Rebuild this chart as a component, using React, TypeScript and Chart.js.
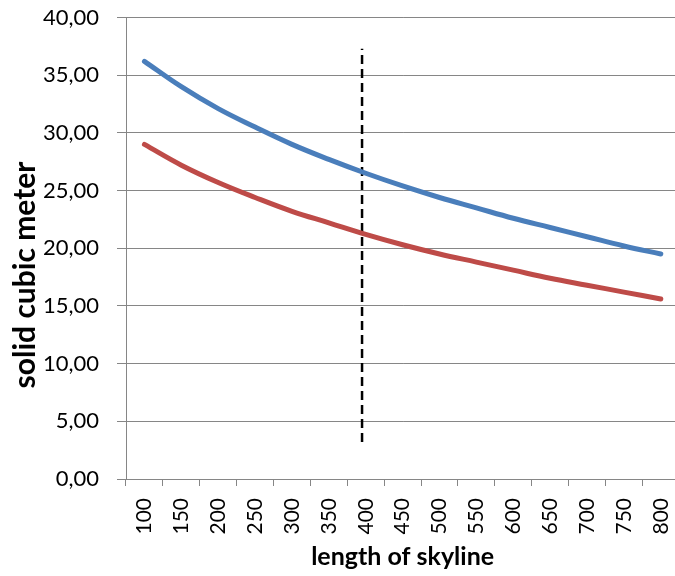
import React, { useEffect, useRef } from "react";
import { Chart, registerables } from "chart.js";

Chart.register(...registerables);

const categories = ["100", "150", "200", "250", "300", "350", "400", "450", "500", "550", "600", "650", "700", "750", "800"];
const blueSeries = [36.2, 34.0, 32.1, 30.5, 29.0, 27.7, 26.5, 25.4, 24.4, 23.5, 22.6, 21.8, 21.0, 20.2, 19.5];
const redSeries = [29.0, 27.2, 25.7, 24.4, 23.2, 22.2, 21.2, 20.3, 19.5, 18.8, 18.1, 17.4, 16.8, 16.2, 15.6];
const markerLength = [395, 395];
const markerValues = [3.2, 37.3];
const yMin = 0;
const yMax = 40;
const yStep = 5;
const xRangeMin = 75;
const xRangeMax = 825;
const yTitle = "solid cubic meter";
const xTitle = "length of skyline";

const GRID = "#868686";
const FONT = "Lato, 'Open Sans', sans-serif";

const yTitlePlugin = {
  id: "yTitlePlugin",
  afterDraw(chart: any) {
    const { ctx, chartArea } = chart;
    ctx.save();
    ctx.font = `bold 30px ${FONT}`;
    ctx.fillStyle = "#000";
    ctx.textAlign = "center";
    ctx.textBaseline = "middle";
    const cy = chartArea.top + (chartArea.bottom - chartArea.top) * 0.558;
    ctx.translate(25, cy);
    ctx.rotate(-Math.PI / 2);
    ctx.fillText(yTitle, 0, 0);
    ctx.restore();
  },
};

export default function App() {
  const ref = useRef<HTMLCanvasElement | null>(null);

  useEffect(() => {
    if (!ref.current) return;
    const chart = new Chart(ref.current, {
      type: "line",
      data: {
        labels: categories,
        datasets: [
          {
            data: blueSeries,
            borderColor: "#4A7EBB",
            borderWidth: 5,
            pointRadius: 0,
            tension: 0.4,
            borderCapStyle: "round",
            fill: false,
          },
          {
            data: redSeries,
            borderColor: "#BE4B48",
            borderWidth: 5,
            pointRadius: 0,
            tension: 0.4,
            borderCapStyle: "round",
            fill: false,
          },
          {
            data: markerLength.map((x, i) => ({ x, y: markerValues[i] })),
            xAxisID: "x2",
            borderColor: "#000000",
            borderWidth: 2.5,
            borderDash: [9, 5],
            pointRadius: 0,
            fill: false,
          },
        ],
      },
      options: {
        animation: false,
        responsive: false,
        maintainAspectRatio: false,
        layout: { padding: { top: 0, right: 0, bottom: 0, left: 0 } },
        plugins: { legend: { display: false }, tooltip: { enabled: false } },
        scales: {
          x: {
            type: "category",
            offset: true,
            afterFit: (s: any) => {
              s.height = 97;
            },
            grid: {
              display: true,
              offset: true,
              drawOnChartArea: false,
              drawTicks: true,
              tickLength: 7,
              color: GRID,
              lineWidth: 1,
            },
            border: { display: true, color: GRID, width: 1 },
            ticks: {
              minRotation: 90,
              maxRotation: 90,
              autoSkip: false,
              padding: 12,
              color: "#000",
              font: { family: FONT, size: 21 },
            },
            title: {
              display: true,
              text: xTitle,
              color: "#000",
              font: { family: FONT, size: 25, weight: "bold" },
              padding: { top: 0, bottom: 4 },
            },
          },
          x2: {
            type: "linear",
            display: false,
            min: xRangeMin,
            max: xRangeMax,
          },
          y: {
            min: yMin,
            max: yMax,
            afterFit: (s: any) => {
              s.width = 126;
              s.paddingTop = 17.5;
              s.paddingBottom = 0;
            },
            ticks: {
              stepSize: yStep,
              padding: 18,
              color: "#000",
              font: { family: FONT, size: 22 },
              callback: (v: any) => Number(v).toFixed(2).replace(".", ","),
            },
            grid: {
              color: GRID,
              lineWidth: 1,
              drawTicks: true,
              tickLength: 9,
            },
            border: { display: true, color: GRID, width: 1 },
            title: { display: false },
          },
        },
      },
      plugins: [yTitlePlugin],
    });
    return () => chart.destroy();
  }, []);

  return (
    <div style={{ position: "absolute", left: 0, top: 0, width: 675, height: 576, overflow: "hidden", background: "#fff" }}>
      <canvas ref={ref} width={698} height={576} style={{ display: "block", width: 698, height: 576 }} />
    </div>
  );
}
